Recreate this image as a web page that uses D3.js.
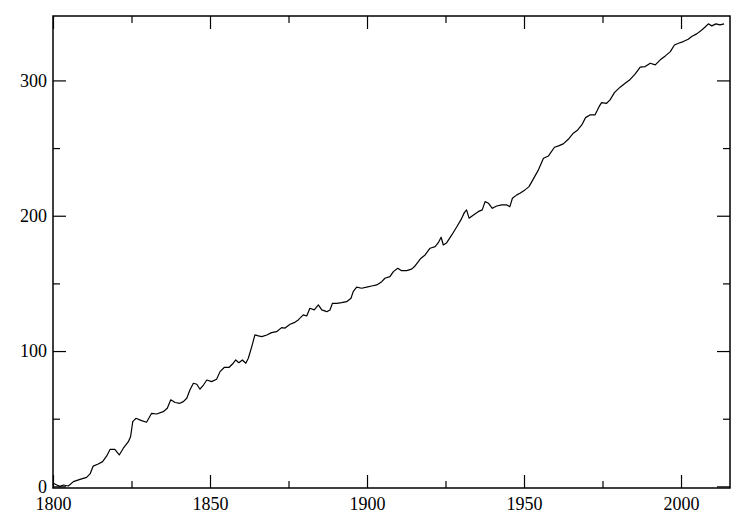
<!DOCTYPE html>
<html>
<head>
<meta charset="utf-8">
<script src="https://cdn.jsdelivr.net/npm/d3@7"></script>
<style>
  html, body { margin: 0; padding: 0; background: #fff; }
  svg { display: block; }
  .axis path { display: none; }
  .axis line { stroke: #000; stroke-width: 1.2; }
</style>
</head>
<body>
<svg id="chart" width="747" height="530"></svg>
<script>
const years = [1800.1,1801.2,1802.2,1803.3,1804.9,1806.5,1808.6,1810.7,1811.8,1812.8,1814.4,1815.8,1817.1,1818.2,1819.7,1821.1,1822.4,1824.0,1824.7,1825.4,1826.4,1828.2,1829.8,1831.4,1833.0,1835.1,1836.4,1837.5,1838.9,1840.4,1841.5,1842.6,1843.6,1844.7,1845.8,1846.8,1847.9,1849.0,1850.5,1852.1,1853.2,1854.6,1856.1,1857.4,1858.2,1859.2,1860.3,1861.4,1862.2,1863.3,1864.3,1865.4,1866.5,1868.1,1869.6,1871.2,1872.8,1873.9,1875.5,1876.8,1878.1,1879.7,1880.8,1881.8,1883.2,1884.5,1885.6,1887.2,1888.2,1889.0,1890.4,1891.9,1893.5,1894.9,1895.6,1896.7,1898.3,1899.9,1901.5,1903.1,1904.7,1905.7,1907.3,1908.4,1909.8,1911.0,1912.6,1914.2,1915.3,1917.2,1918.5,1920.1,1921.7,1922.7,1923.6,1924.3,1925.4,1927.0,1928.6,1929.9,1931.0,1931.7,1932.5,1933.9,1935.4,1936.7,1937.6,1938.7,1939.9,1941.3,1942.9,1944.5,1945.5,1946.3,1947.7,1948.7,1950.3,1951.6,1953.3,1954.6,1956.2,1957.8,1959.7,1961.0,1962.5,1964.1,1965.7,1967.1,1968.4,1969.6,1971.0,1972.6,1973.9,1974.7,1976.3,1977.4,1978.8,1980.6,1982.2,1983.8,1985.3,1987.0,1988.6,1990.2,1991.8,1993.4,1995.0,1996.6,1997.9,1999.2,2000.7,2002.3,2003.4,2005.0,2006.6,2007.6,2008.7,2009.8,2011.1,2012.4,2013.7];
const values = [2.3,1.0,0,1.0,0.3,3.5,5.2,6.7,9.2,15.0,16.5,18.3,22.5,27.4,27.4,23.2,28.2,33.0,36.7,47.8,50.3,48.6,47.4,54.0,53.5,55.2,57.7,64.0,62.0,61.4,62.6,65.1,71.2,76.2,75.5,71.8,74.9,78.6,77.4,79.2,84.8,88.0,88.0,91.0,93.4,91.4,93.4,91.0,94.7,103.3,111.9,111.2,110.7,111.9,113.6,114.3,117.3,117.0,119.8,121.0,123.0,126.7,125.9,131.6,130.4,134.1,130.4,129.1,130.4,135.3,135.3,135.8,136.5,139.0,143.9,147.2,146.4,147.2,148.1,148.9,151.3,153.8,155.0,158.7,161.2,159.4,159.4,160.5,162.9,168.6,171.0,176.0,177.2,180.1,184.1,178.4,180.1,185.8,191.9,196.9,202.3,204.3,198.2,200.6,203.0,204.3,210.4,209.2,205.5,207.2,208.0,208.0,206.7,212.9,215.4,216.6,219.1,221.5,228.5,233.9,242.5,244.2,250.6,251.6,253.1,256.5,261.0,263.4,267.1,272.5,274.5,274.5,280.6,283.6,283.1,285.6,291.0,295.0,297.9,300.7,304.5,309.8,310.2,312.7,311.5,315.2,318.1,321.3,326.2,327.5,328.7,330.4,332.4,334.4,337.3,339.3,341.8,340.3,341.8,341.0,341.8];
const xMajorTicks = [1800, 1850, 1900, 1950, 2000];
const xMinorTicks = [1825, 1875, 1925, 1975];
const yMajorTicks = [0, 100, 200, 300];
const yMinorTicks = [50, 150, 250];

const padL = 53, padR = 730, padT = 16, padB = 488;
const FONT = '"Liberation Serif", "Times New Roman", Times, "DejaVu Serif", serif';
const svg = d3.select("#chart");
const x = d3.scaleLinear().domain([1800, 2015.6]).range([padL, padR]);
const y = d3.scaleLinear().domain([-1.2, 347.6]).range([padB, padT]);

const data = years.map((yr, i) => ({ yr, v: values[i] }));

// line
svg.append("path")
  .datum(data)
  .attr("fill", "none")
  .attr("stroke", "#000")
  .attr("stroke-width", 1.2)
  .attr("stroke-linejoin", "round")
  .attr("d", d3.line().x(d => x(d.yr)).y(d => y(d.v)));

const MAJ = 13, MIN = 7;
function styleAxis(g) {
  g.attr("font-family", FONT).attr("font-size", 18);
  g.selectAll("text").style("font-family", FONT).style("font-size", "18px").attr("fill", "#000");
}
// bottom axis
svg.append("g").attr("class", "axis").attr("transform", `translate(0,${padB})`)
  .call(d3.axisBottom(x).tickValues(xMajorTicks).tickFormat(d3.format("d")).tickSize(-MAJ).tickPadding(9))
  .call(styleAxis);
svg.append("g").attr("class", "axis").attr("transform", `translate(0,${padB})`)
  .call(d3.axisBottom(x).tickValues(xMinorTicks).tickFormat("").tickSize(-MIN));
// top axis
svg.append("g").attr("class", "axis").attr("transform", `translate(0,${padT})`)
  .call(d3.axisTop(x).tickValues(xMajorTicks).tickFormat("").tickSize(-MAJ));
svg.append("g").attr("class", "axis").attr("transform", `translate(0,${padT})`)
  .call(d3.axisTop(x).tickValues(xMinorTicks).tickFormat("").tickSize(-MIN));
// left axis
svg.append("g").attr("class", "axis").attr("transform", `translate(${padL},0)`)
  .call(d3.axisLeft(y).tickValues(yMajorTicks).tickFormat(d3.format("d")).tickSize(-MAJ).tickPadding(6))
  .call(styleAxis);
svg.append("g").attr("class", "axis").attr("transform", `translate(${padL},0)`)
  .call(d3.axisLeft(y).tickValues(yMinorTicks).tickFormat("").tickSize(-MIN));
// right axis
svg.append("g").attr("class", "axis").attr("transform", `translate(${padR},0)`)
  .call(d3.axisRight(y).tickValues(yMajorTicks).tickFormat("").tickSize(-MAJ));
svg.append("g").attr("class", "axis").attr("transform", `translate(${padR},0)`)
  .call(d3.axisRight(y).tickValues(yMinorTicks).tickFormat("").tickSize(-MIN));

// frame
svg.append("rect")
  .attr("x", padL).attr("y", padT)
  .attr("width", padR - padL).attr("height", padB - padT)
  .attr("fill", "none").attr("stroke", "#000").attr("stroke-width", 1.5);
</script>
</body>
</html>
